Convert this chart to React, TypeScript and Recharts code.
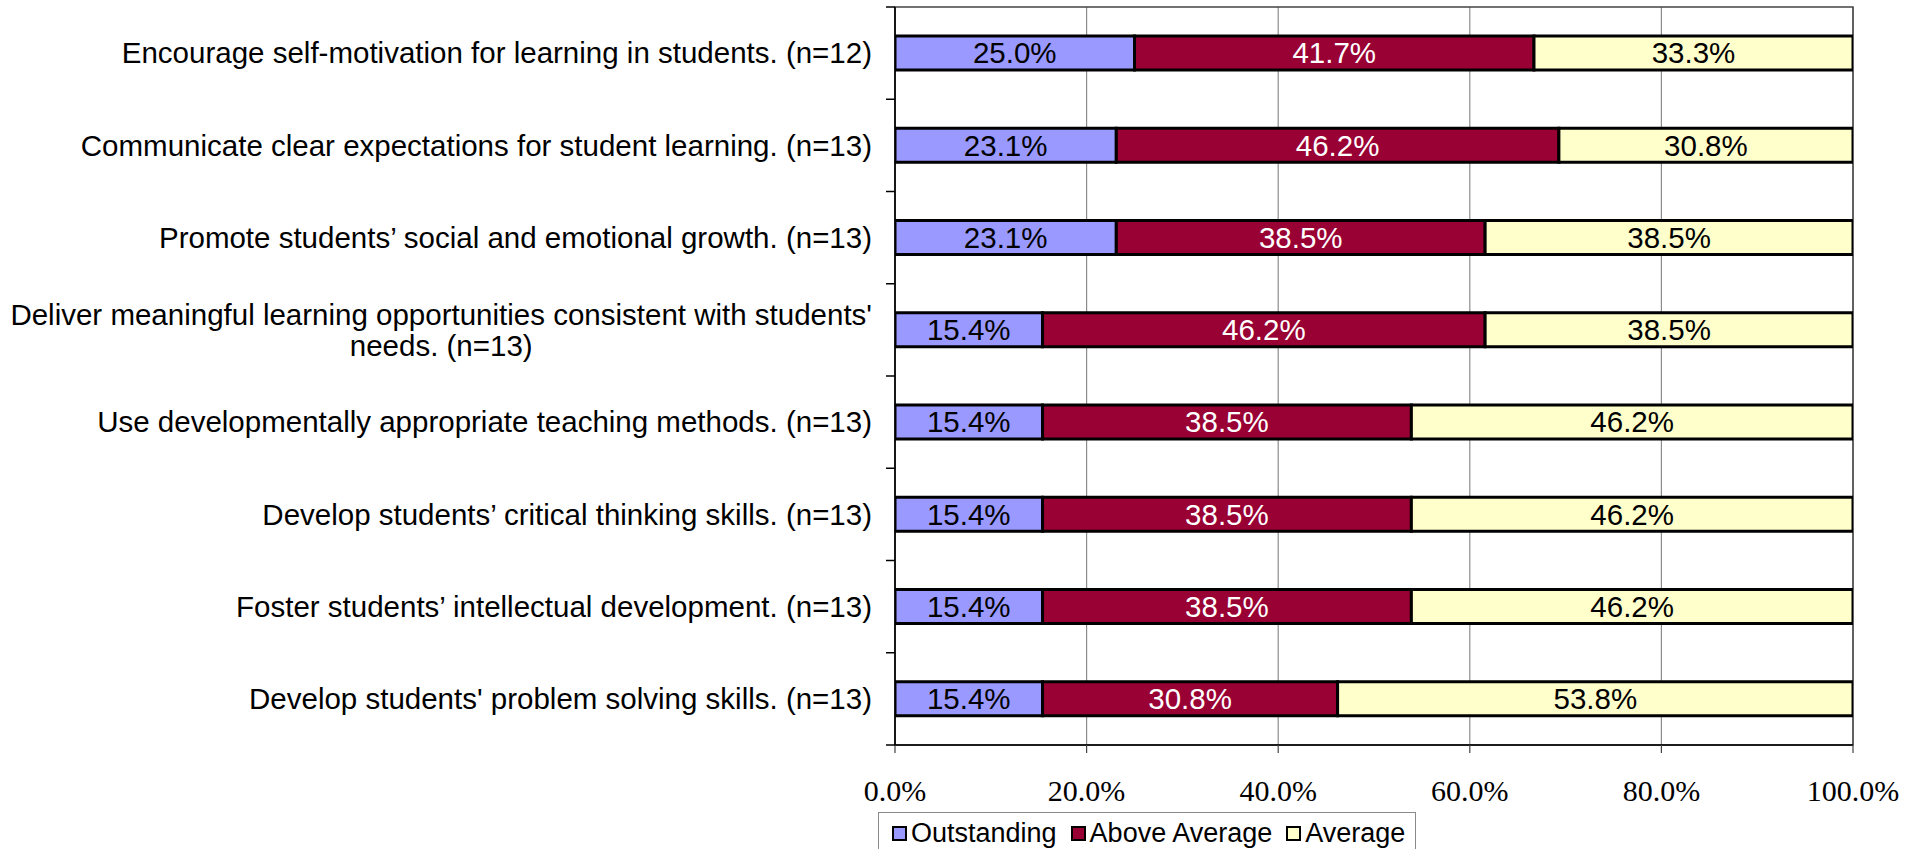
import { useLayoutEffect, useRef, useState } from "react"
import {
  BarChart,
  Bar,
  XAxis,
  YAxis,
  CartesianGrid,
  LabelList,
  Legend,
  ReferenceArea,
} from "recharts"

const categories = [
  "Encourage self-motivation for learning in students. (n=12)",
  "Communicate clear expectations for student learning. (n=13)",
  "Promote students’ social and emotional growth. (n=13)",
  "Deliver meaningful learning opportunities consistent with students'\nneeds. (n=13)",
  "Use developmentally appropriate teaching methods. (n=13)",
  "Develop students’ critical thinking skills. (n=13)",
  "Foster students’ intellectual development. (n=13)",
  "Develop students' problem solving skills. (n=13)",
]
const outstanding = [25.0, 23.1, 23.1, 15.4, 15.4, 15.4, 15.4, 15.4]
const aboveAverage = [41.7, 46.2, 38.5, 46.2, 38.5, 38.5, 38.5, 30.8]
const average = [33.3, 30.8, 38.5, 38.5, 46.2, 46.2, 46.2, 53.8]
const seriesNames = ["Outstanding", "Above Average", "Average"]
const xTicks = [0, 20, 40, 60, 80, 100]

const data = categories.map((name, i) => ({
  name,
  outstanding: outstanding[i],
  aboveAverage: aboveAverage[i],
  average: average[i],
}))

const SANS = '"Liberation Sans", Arial, sans-serif'
const SERIF = '"Liberation Serif", "Times New Roman", serif'

const W = 1921
const H = 849
const PLOT_LEFT = 895
const PLOT_TOP = 7
const PLOT_BOTTOM = 745
const BAND = (PLOT_BOTTOM - PLOT_TOP) / categories.length
const FONT = 29.5

const pct = (v: number) => `${Number(v).toFixed(1)}%`

function CategoryTick(props: any) {
  const { y, payload, index } = props
  const lines = String(payload.value).split("\n")
  const refs = useRef<(SVGTextElement | null)[]>([])
  const [widths, setWidths] = useState<number[] | null>(null)
  useLayoutEffect(() => {
    setWidths(refs.current.map((t) => (t ? t.getComputedTextLength() : 0)))
  }, [payload.value])
  const right = PLOT_LEFT - 23
  const maxW = widths ? Math.max(...widths) : 0
  const lineH = 31
  const y0 = y - ((lines.length - 1) * lineH) / 2
  const multi = widths && lines.length > 1
  return (
    <g>
      <line x1={PLOT_LEFT - 9} x2={PLOT_LEFT} y1={y - BAND / 2} y2={y - BAND / 2} stroke="#000" strokeWidth={1.5} />
      {index === categories.length - 1 && (
        <line x1={PLOT_LEFT - 9} x2={PLOT_LEFT} y1={y + BAND / 2} y2={y + BAND / 2} stroke="#000" strokeWidth={1.5} />
      )}
      {lines.map((l, i) => (
        <text
          key={i}
          ref={(el) => {
            refs.current[i] = el
          }}
          x={multi ? right - maxW / 2 : right}
          y={y0 + i * lineH}
          dy="0.35em"
          textAnchor={multi ? "middle" : "end"}
          fontFamily={SANS}
          fontSize={FONT}
          fill="#000"
        >
          {l}
        </text>
      ))}
    </g>
  )
}

function PctTick(props: any) {
  const { x, y, payload } = props
  return (
    <text x={x} y={y} dy={46} textAnchor="middle" fontFamily={SERIF} fontSize={30} fill="#000">
      {pct(payload.value)}
    </text>
  )
}

const renderLegend = (props: any) => {
  const payload = [...(props.payload || [])].sort(
    (a: any, b: any) => seriesNames.indexOf(a.value) - seriesNames.indexOf(b.value)
  )
  return (
    <div
      style={{
        border: "1px solid #8a8a8a",
        height: 42,
        boxSizing: "border-box",
        display: "flex",
        alignItems: "center",
        paddingLeft: 13,
        fontFamily: SANS,
        fontSize: 27,
        background: "#fff",
        whiteSpace: "nowrap",
      }}
    >
      {payload.map((e: any) => (
        <span key={e.value} style={{ display: "flex", alignItems: "center", marginRight: 14, flexShrink: 0 }}>
          <span
            style={{
              width: 11,
              height: 11,
              background: e.color,
              border: "2px solid #000",
              marginRight: 4,
              display: "inline-block",
            }}
          />
          {e.value}
        </span>
      ))}
    </div>
  )
}

export default function App() {
  return (
    <div style={{ position: "absolute", left: 0, top: 0, width: W, height: H, background: "#fff", overflow: "hidden" }}>
      <BarChart
        width={W}
        height={H}
        data={data}
        layout="vertical"
        margin={{ top: PLOT_TOP, right: 68, bottom: 44, left: 0 }}
        barSize={34}
      >
        <CartesianGrid horizontal={false} stroke="#8c8c8c" strokeWidth={1.2} />
        <ReferenceArea x1={0} x2={100} fill="none" stroke="#444" strokeWidth={1.5} />
        <XAxis
          type="number"
          domain={[0, 100]}
          allowDataOverflow
          ticks={xTicks}
          height={60}
          axisLine={{ stroke: "#000", strokeWidth: 1.5 }}
          tickLine={{ stroke: "#444", strokeWidth: 1.2 }}
          tickSize={8}
          tick={<PctTick />}
        />
        <YAxis
          type="category"
          dataKey="name"
          width={PLOT_LEFT}
          axisLine={{ stroke: "#000", strokeWidth: 1.5 }}
          tickLine={false}
          interval={0}
          tick={<CategoryTick />}
        />
        <Legend
          layout="horizontal"
          verticalAlign="middle"
          align="center"
          content={renderLegend}
          wrapperStyle={{ left: 878, top: 812, width: 538 }}
        />
        <Bar dataKey="outstanding" name="Outstanding" stackId="a" fill="#9999FF" stroke="#000" strokeWidth={3} isAnimationActive={false}>
          <LabelList dataKey="outstanding" position="center" formatter={pct} fill="#000" fontFamily={SANS} fontSize={FONT} />
        </Bar>
        <Bar dataKey="aboveAverage" name="Above Average" stackId="a" fill="#990033" stroke="#000" strokeWidth={3} isAnimationActive={false}>
          <LabelList dataKey="aboveAverage" position="center" formatter={pct} fill="#fff" fontFamily={SANS} fontSize={FONT} />
        </Bar>
        <Bar dataKey="average" name="Average" stackId="a" fill="#FFFFCC" stroke="#000" strokeWidth={3} isAnimationActive={false}>
          <LabelList dataKey="average" position="center" formatter={pct} fill="#000" fontFamily={SANS} fontSize={FONT} />
        </Bar>
      </BarChart>
    </div>
  )
}
